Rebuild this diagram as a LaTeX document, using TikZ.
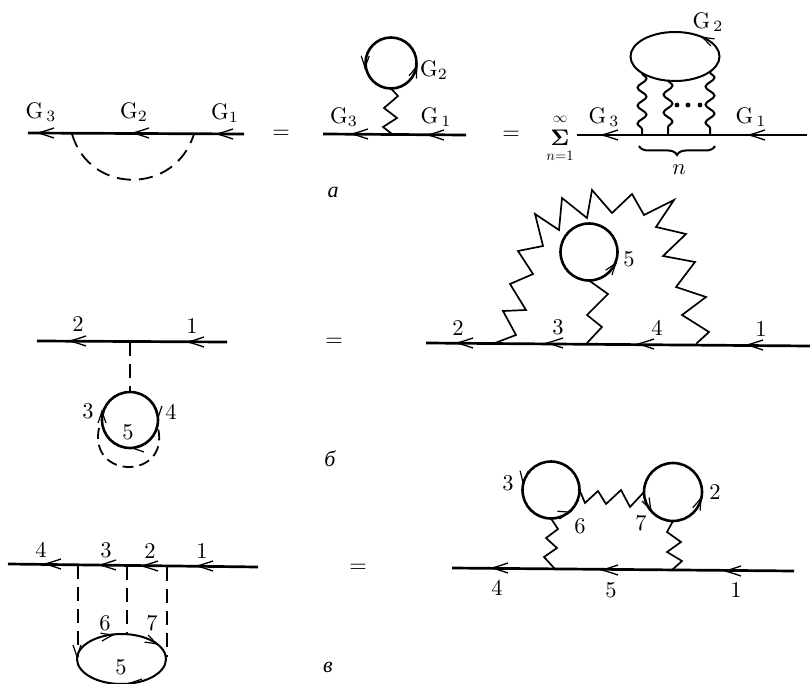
\documentclass[tikz,border=0pt]{standalone}
\usepackage{fontspec}
\usepackage{amsmath}
\usetikzlibrary{shapes.geometric, arrows.meta, positioning, calc, decorations.pathreplacing, decorations.pathmorphing}
\newfontfamily\cyrfont{Liberation Serif}
\tikzset{
  lab/.style={scale=2.25, transform shape, inner sep=0pt},
  smalllab/.style={scale=1.45, transform shape, inner sep=0pt},
  tag/.style={font=\cyrfont\itshape\fontsize{22}{24}\selectfont, inner sep=0pt},
  propline/.style={line width=2.7pt},
  ring/.style={circle, draw, line width=2.6pt, inner sep=0pt, outer sep=0pt},
  oval/.style={ellipse, draw, line width=2pt, inner sep=0pt, outer sep=0pt},
  photon/.style={line width=1.7pt, miter limit=8},
  dashline/.style={line width=1.8pt, dash pattern=on 14pt off 8pt},
  wavy/.style={line width=2pt, decorate, decoration={snake, segment length=18pt, amplitude=4.5pt}},
  tip/.pic={\draw[line width=1.3pt] (16,-5) .. controls (7,-2) .. (0,0) .. controls (7,2) .. (16,5);},
  ringtip/.pic={\draw[line width=1.2pt] (12,-4) .. controls (5,-1.5) .. (0,0) .. controls (5,1.5) .. (12,4);}
}

\begin{document}
\begin{tikzpicture}[x=1pt, y=-1pt]
  \useasboundingbox (0,0) rectangle (810,684);

  % a, left
  \coordinate (aL) at (28,133);
  \coordinate (aR) at (244,134);
  \coordinate (aV1) at (72,134);
  \coordinate (aV2) at (194,134);
  \draw[propline] (aL) -- (aR);
  \draw[dashline] (aV1) .. controls (90,195) and (175,195) .. (aV2);
  \pic at (38,133) {tip};
  \pic at (133,133) {tip};
  \pic at (217,134) {tip};
  \node[lab] (aG3) at (41,112) {$\mathrm{G}_{\,3}$};
  \node[lab] (aG2) at (134,112) {$\mathrm{G}_{2}$};
  \node[lab] (aG1) at (225,113) {$\mathrm{G}_{1}$};
  \node[lab] (aEq1) at (281,134) {=};

  % a, middle
  \coordinate (bL) at (323,134);
  \coordinate (bR) at (466,135);
  \coordinate (bV) at (392,134);
  \draw[propline] (bL) -- (bR);
  \node[ring, minimum size=51pt] (bRing) at (391,63) {};
  \draw[photon] (bRing.south) -- (398,96) -- (384,108) -- (397,118) -- (383,127) -- (bV);
  \pic at (352,134) {tip};
  \pic at (428,135) {tip};
  \pic[rotate=89] at (365,68) {ringtip};
  \pic[rotate=-111] at (417,66) {ringtip};
  \node[lab] (bG2) at (434,70) {$\mathrm{G}_{2}$};
  \node[lab] (bG3) at (344,117) {$\mathrm{G}_{3}$};
  \node[lab] (bG1) at (436,117) {$\mathrm{G}_{\,1}$};
  \node[lab] (aEq2) at (511,135) {=};

  % a, right
  \coordinate (cL) at (577,135);
  \coordinate (cR) at (807,135);
  \draw[propline] (cL) -- (cR);
  \node[oval, minimum width=89pt, minimum height=49pt] (cOval) at (675,56.5) {};
  \pic[rotate=-27] at (702,37) {ringtip};
  \coordinate (w1) at (642,73);
  \coordinate (w2) at (668,80);
  \coordinate (w3) at (710,72);
  \coordinate (v1) at (642,135);
  \coordinate (v2) at (668,135);
  \coordinate (v3) at (710,135);
  \draw[wavy] (w1) -- (v1);
  \draw[wavy] (w2) -- (v2);
  \draw[wavy] (w3) -- (v3);
  \fill (677,105) circle (2.4pt);
  \fill (688,105) circle (2.4pt);
  \fill (700,105) circle (2.4pt);
  \pic at (602,135) {tip};
  \pic at (749,135) {tip};
  \draw[line width=2pt, decorate, decoration={brace, amplitude=9pt}] (715,146) -- (639,146);
  \node[lab] (cSum) at (560,138) {$\boldsymbol{\Sigma}$};
  \node[smalllab] (cInf) at (560,119) {$\infty$};
  \node[smalllab] (cLow) at (560,156) {$n{=}1$};
  \node[lab] (cG2) at (708,22) {$\mathrm{G}_{\,2}$};
  \node[lab] (cG3) at (604,117) {$\mathrm{G}_{\,3}$};
  \node[lab] (cG1) at (751,117) {$\mathrm{G}_{\,1}$};
  \node[lab] (cN) at (679,170) {$n$};
  \node[tag] (tagA) at (333,192) {а};

  % b, left
  \coordinate (dL) at (37,341);
  \coordinate (dR) at (227,342);
  \coordinate (dV) at (130,342);
  \draw[propline] (dL) -- (dR);
  \node[ring, minimum size=56pt] (dRing) at (130,420) {};
  \draw[dashline] (dV) -- (dRing.north);
  \draw[dashline, dash pattern=on 11pt off 6pt] (99,428) .. controls (88,480) and (170,480) .. (158,428);
  \pic at (70,341) {tip};
  \pic at (188,342) {tip};
  \pic[rotate=-90] at (102,411) {ringtip};
  \pic[rotate=90] at (158,418) {ringtip};
  \pic at (132,448) {ringtip};
  \node[lab] (d2) at (78,324) {2};
  \node[lab] (d1) at (192,326) {1};
  \node[lab] (d3) at (88,411) {3};
  \node[lab] (d4) at (171,412) {4};
  \node[lab] (d5) at (128,432) {5};
  \node[lab] (bEq) at (334,342) {=};

  % b, right
  \coordinate (eL) at (426,343);
  \coordinate (eR) at (810,346);
  \coordinate (eV1) at (495,343);
  \coordinate (eV2) at (587,343);
  \coordinate (eV3) at (696,344);
  \draw[propline] (eL) -- (eR);
  \node[ring, minimum size=57pt] (eRing) at (589,252) {};
  \draw[photon] (eV1) -- (516,335) -- (503,311) -- (526,310) -- (510,284) -- (533,274) -- (518,251) -- (543,246) -- (535,214) -- (559,230) -- (562,198) -- (587,218) -- (592,190) -- (612,213) -- (632,194) -- (644,215) -- (674,200) -- (656,227) -- (686,234) -- (663,256) -- (695,262) -- (676,287) -- (706,297) -- (682,315) -- (709,332) -- (eV3);
  \draw[photon] (eRing.south) -- (608,294) -- (587,315) -- (602,327) -- (eV2);
  \pic at (457,343) {tip};
  \pic at (547,343) {tip};
  \pic at (638,344) {tip};
  \pic at (747,345) {tip};
  \pic[rotate=-127] at (616,263) {ringtip};
  \node[lab] (e2) at (458,328) {2};
  \node[lab] (e3) at (558,327) {3};
  \node[lab] (e4) at (657,328) {4};
  \node[lab] (e1) at (761,329) {1};
  \node[lab] (e5) at (629,259) {5};
  \node[tag] (tagB) at (330,459) {б};

  % c, left
  \coordinate (fL) at (8,564);
  \coordinate (fR) at (258,567);
  \draw[propline] (fL) -- (fR);
  \node[oval, minimum width=89pt, minimum height=50pt] (fOval) at (121.5,659) {};
  \draw[dashline] (78,565) -- (78,657);
  \draw[dashline] (127,566) -- (127,634);
  \draw[dashline] (167,567) -- (167,657);
  \pic at (45,564) {tip};
  \pic at (100,565) {tip};
  \pic at (142,566) {tip};
  \pic at (197,566) {tip};
  \pic[rotate=190] at (113,635) {ringtip};
  \pic[rotate=153] at (157,644) {ringtip};
  \pic[rotate=90] at (77,657) {ringtip};
  \pic at (130,683) {ringtip};
  \node[lab] (f4) at (41,550) {4};
  \node[lab] (f3) at (106,550) {3};
  \node[lab] (f2) at (150,551) {2};
  \node[lab] (f1) at (202,551) {1};
  \node[lab] (f6) at (105,623) {6};
  \node[lab] (f7) at (152,623) {7};
  \node[lab] (f5) at (121,667) {5};
  \node[lab] (cEq) at (358,568) {=};

  % c, right
  \coordinate (gL) at (452,568);
  \coordinate (gR) at (794,571);
  \coordinate (gV1) at (555,569);
  \coordinate (gV2) at (672,570);
  \draw[propline] (gL) -- (gR);
  \node[ring, minimum size=57pt] (gRingL) at (551,490) {};
  \node[ring, minimum size=58pt] (gRingR) at (673,492) {};
  \draw[photon] (gRingL.south) -- (558,529) -- (546,538) -- (557,548) -- (544,557) -- (gV1);
  \draw[photon] (gRingR.south) -- (667,532) -- (681,542) -- (667,552) -- (682,561) -- (gV2);
  \draw[photon] (gRingL.east) -- (585,503) -- (598,491) -- (606,504) -- (621,490) -- (630,507) -- (gRingR.west);
  \pic at (492,568) {tip};
  \pic at (602,570) {tip};
  \pic at (725,571) {tip};
  \pic[rotate=85] at (523,483) {ringtip};
  \pic[rotate=-165] at (570,512) {ringtip};
  \pic[rotate=-112] at (701,498) {ringtip};
  \pic[rotate=117] at (651,510) {ringtip};
  \node[lab] (g3) at (508,483) {3};
  \node[lab] (g6) at (580,526) {6};
  \node[lab] (g7) at (641,523) {7};
  \node[lab] (g2) at (715,492) {2};
  \node[lab] (g4) at (497,588) {4};
  \node[lab] (g5) at (611,590) {5};
  \node[lab] (g1) at (736,590) {1};
  \node[tag] (tagC) at (328,667) {в};
\end{tikzpicture}
\end{document}
